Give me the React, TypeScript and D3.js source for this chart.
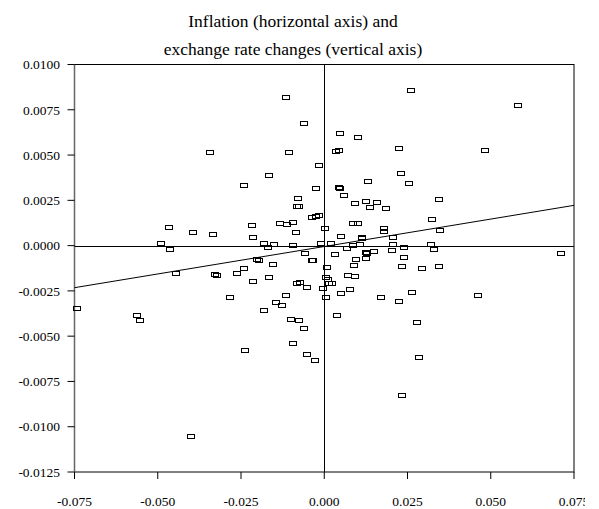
import * as d3 from 'd3'

// inflation (x) and exchange rate change (y)
const inflation = [
  -0.0465, -0.049, -0.0464, -0.0394, -0.0114, -0.0061, -0.0342, -0.0106, -0.0015, -0.0165,
  -0.0241, -0.0026, -0.0078, -0.0082, -0.0076, -0.0036, -0.0026, -0.0016, -0.0134, -0.0112,
  -0.0094, -0.0216, -0.0335, -0.0086, -0.0213, -0.0182, -0.017, -0.0152, -0.0094, -0.001,
  0.0003, -0.0057, -0.0202, -0.0195, -0.0155, -0.0037, -0.0035, 0.0261, 0.0048, 0.0102,
  0.0224, 0.0035, 0.0045, 0.0231, 0.0132, 0.0255, 0.0045, 0.0047, 0.006, 0.0344,
  0.0092, 0.0124, 0.0159, 0.0136, 0.0185, 0.0325, 0.0085, 0.0101, 0.0178, 0.0179,
  0.0348, 0.005, 0.0112, 0.0112, 0.0207, 0.002, 0.0085, 0.0106, 0.0207, 0.0322,
  0.033, 0.0069, 0.0238, 0.0032, 0.0126, 0.0128, 0.0148, 0.0203, 0.0238, 0.0095,
  0.0125, 0.009, 0.0484, 0.0582, 0.0711, -0.0445, -0.0742, -0.0562, -0.0552, -0.0399,
  -0.0329, -0.0322, -0.0261, -0.0241, -0.0215, -0.0167, -0.0282, -0.0082, -0.0072, -0.0051,
  -0.0005, -0.0115, -0.0145, -0.0127, -0.0182, -0.0101, -0.0075, -0.0062, -0.0093, -0.0238,
  -0.0053, -0.0029, 0.0005, 0.0007, 0.0233, 0.0293, 0.0345, 0.0072, 0.0093, 0.0005,
  0.001, 0.0013, 0.0022, 0.005, 0.0076, 0.017, 0.0224, 0.0263, 0.0038, 0.0279,
  0.0285, 0.0234, 0.0463,
]
const fxChange = [
  0.00101, 0.00014, -0.0002, 0.00075, 0.00818, 0.00678, 0.00518, 0.00518, 0.00443, 0.00392,
  0.00333, 0.0032, 0.00261, 0.00217, 0.00217, 0.0016, 0.00165, 0.00169, 0.00123, 0.00117,
  0.00132, 0.00116, 0.00062, 0.00075, 0.00047, 0.00013, -0.00009, 0.00007, 0.00006, 0.00017,
  0.00095, -0.00039, -0.00074, -0.00081, -0.00099, -0.00078, -0.00082, 0.00858, 0.00623, 0.00597,
  0.0054, 0.00522, 0.00529, 0.00399, 0.00355, 0.00347, 0.00322, 0.00318, 0.00281, 0.00259,
  0.00235, 0.00246, 0.00243, 0.00211, 0.00206, 0.00147, 0.00125, 0.00127, 0.00095, 0.00081,
  0.00086, 0.00055, 0.0005, 0.00042, 0.00046, 0.00017, 0.00002, 0.00011, 0.00009, 0.00007,
  -0.00017, -0.00015, -0.00009, -0.00044, -0.00035, -0.00039, -0.00028, -0.00024, -0.00061, -0.00076,
  -0.00071, -0.00106, 0.00526, 0.00779, -0.00039, -0.00151, -0.00347, -0.00384, -0.00412, -0.01052,
  -0.00158, -0.00164, -0.00149, -0.00121, -0.00195, -0.00175, -0.00281, -0.00208, -0.00201, -0.0023,
  -0.00232, -0.0027, -0.00311, -0.00328, -0.00353, -0.00403, -0.00412, -0.00454, -0.0054, -0.00579,
  -0.00599, -0.00633, -0.00283, -0.00118, -0.00114, -0.00121, -0.0011, -0.00164, -0.00169, -0.00173,
  -0.00182, -0.00206, -0.00206, -0.00261, -0.00241, -0.00281, -0.00307, -0.00256, -0.00384, -0.00423,
  -0.00616, -0.00827, -0.0027,
]

const xTicks = [-0.075, -0.05, -0.025, 0, 0.025, 0.05, 0.075]
const yTicks = [0.01, 0.0075, 0.005, 0.0025, 0, -0.0025, -0.005, -0.0075, -0.01, -0.0125]
const titleLines = ['Inflation (horizontal axis) and', 'exchange rate changes (vertical axis)']

// fitted line
const fitIntercept = -0.00005
const fitSlope = 0.0303

const W = 599
const H = 509
const margin = { top: 64.5, right: 25, bottom: 37, left: 74.5 }
const font = '"Liberation Serif", "Times New Roman", serif'

const loc = d3.formatLocale({ decimal: '.', thousands: ',', grouping: [3], currency: ['$', ''], minus: '-' })
const fmtX = loc.format('.3f')
const fmtY = loc.format('.4f')

export default function App() {
  const x = d3.scaleLinear().domain([-0.075, 0.075]).range([margin.left, W - margin.right])
  const y = d3.scaleLinear().domain([-0.0125, 0.01]).range([H - margin.bottom, margin.top])
  const [x0, x1] = x.range()
  const [y0, y1] = y.range()

  const fit = d3.line<number>()
    .x(d => x(d))
    .y(d => y(fitIntercept + fitSlope * d))

  return (
    <div style={{ position: 'absolute', left: 0, top: 0 }}>
      <svg width={W} height={H} style={{ display: 'block', background: '#fff' }}>
        <defs>
          <clipPath id="page">
            <rect x={0} y={0} width={585} height={H} />
          </clipPath>
        </defs>
        <g clipPath="url(#page)" fontFamily={font}>
          {titleLines.map((t, i) => (
            <text key={i} x={293} y={27 + i * 27.5} textAnchor="middle" fontSize={17.5} fill="#000">
              {t}
            </text>
          ))}

          {/* frame */}
          <rect x={x0} y={y1} width={x1 - x0} height={y0 - y1} fill="none" stroke="#000" strokeWidth={1} />
          <line x1={x0} x2={x0} y1={y1} y2={y0} stroke="#666" strokeWidth={1.5} />

          {/* zero lines */}
          <line x1={x0} x2={x1} y1={Math.round(y(0)) + 0.5} y2={Math.round(y(0)) + 0.5} stroke="#000" />
          <line x1={Math.round(x(0)) + 0.5} x2={Math.round(x(0)) + 0.5} y1={y1} y2={y0} stroke="#000" />

          {/* y ticks */}
          {yTicks.map(t => (
            <g key={t}>
              <line x1={x0 - 7} x2={x0} y1={y(t)} y2={y(t)} stroke="#000" />
              <text x={60} y={y(t)} dy="0.35em" textAnchor="end" fontSize={13.5} fill="#000">
                {fmtY(t)}
              </text>
            </g>
          ))}

          {/* x ticks */}
          {xTicks.map(t => (
            <g key={t}>
              <line x1={x(t)} x2={x(t)} y1={y0} y2={y0 + 7} stroke="#000" />
              <text x={x(t)} y={506} textAnchor="middle" fontSize={13.5} fill="#000">
                {fmtX(t)}
              </text>
            </g>
          ))}

          {/* regression line */}
          <path d={fit(x.domain()) ?? ''} fill="none" stroke="#000" strokeWidth={1} />

          {/* points */}
          {inflation.map((v, i) => (
            <rect
              key={i}
              x={Math.round(x(v)) - 3.5}
              y={Math.round(y(fxChange[i])) - 1.5}
              width={7}
              height={4}
              fill="none"
              stroke="#000"
              strokeWidth={1}
            />
          ))}
        </g>
      </svg>
    </div>
  )
}
